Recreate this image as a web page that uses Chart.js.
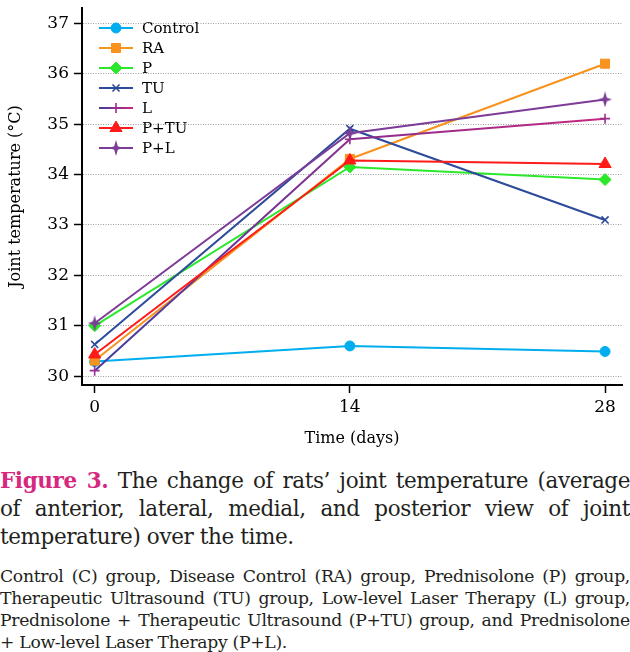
<!DOCTYPE html>
<html><head><meta charset="utf-8">
<script src="https://cdn.jsdelivr.net/npm/chart.js@4/dist/chart.umd.min.js"></script>
<style>
html,body{margin:0;padding:0;background:#fff;}
body{width:630px;height:652px;position:relative;overflow:hidden;font-family:'DejaVu Serif',serif;color:#231f20;}
#wrap{position:absolute;left:0;top:0;width:630px;height:455px;}
#cap1{position:absolute;left:0;top:466.5px;width:630px;font-size:21.5px;line-height:28px;letter-spacing:-0.4px;}
#cap2{position:absolute;left:0;top:565px;width:630px;font-size:17.2px;line-height:22px;letter-spacing:-0.3px;}
.line{width:630px;height:auto;white-space:nowrap;overflow:visible;}
.line > .in{display:inline-block;white-space:nowrap;transform-origin:0 0;}
.fig{color:#D6287F;font-weight:bold;}
</style>
</head><body>
<div id="wrap"><canvas id="c" width="630" height="455"></canvas></div>
<div id="cap1">
<div class="line j"><span class="in"><span class="fig">Figure 3.</span> The change of rats’ joint temperature (average</span></div>
<div class="line j"><span class="in">of anterior, lateral, medial, and posterior view of joint</span></div>
<div class="line"><span class="in">temperature) over the time.</span></div>
</div>
<div id="cap2">
<div class="line j"><span class="in">Control (C) group, Disease Control (RA) group, Prednisolone (P) group,</span></div>
<div class="line j"><span class="in">Therapeutic Ultrasound (TU) group, Low-level Laser Therapy (L) group,</span></div>
<div class="line j"><span class="in">Prednisolone + Therapeutic Ultrasound (P+TU) group, and Prednisolone</span></div>
<div class="line"><span class="in">+ Low-level Laser Therapy (P+L).</span></div>
</div>
<script>
// ---- data ----
const days = [0, 14, 28];
const seriesNames = ['Control', 'RA', 'P', 'TU', 'L', 'P+TU', 'P+L'];
const control = [30.29, 30.60, 30.49];
const ra      = [30.31, 34.31, 36.20];
const p       = [31.00, 34.15, 33.90];
const tu      = [30.63, 34.91, 33.10];
const l       = [30.11, 34.70, 35.11];
const ptu     = [30.43, 34.28, 34.21];
const pl      = [31.05, 34.82, 35.49];
const yTicks = [30, 31, 32, 33, 34, 35, 36, 37];
const xTicks = [0, 14, 28];
const yTitle = 'Joint temperature (°C)';
const xTitle = 'Time (days)';

// ---- caption justification ----
document.querySelectorAll('.line.j').forEach(el => {
  const span = el.querySelector('.in');
  const w = span.getBoundingClientRect().width;
  const target = 630;
  if (w > target) {
    span.style.transform = 'scaleX(' + (target / w) + ')';
  } else {
    const n = (span.textContent.match(/ /g) || []).length;
    if (n) span.style.wordSpacing = ((target - w) / n) + 'px';
  }
});

// ---- styles ----
Chart.defaults.font.family = "'DejaVu Serif', serif";
Chart.defaults.color = '#000';

function makeStar(color) {
  const c = document.createElement('canvas');
  c.width = 14; c.height = 16;
  const g = c.getContext('2d');
  g.fillStyle = color;
  const cx = 7, cy = 8, k = 1.8;
  g.beginPath();
  g.moveTo(cx, 0); g.lineTo(cx + k, cy - k); g.lineTo(14, cy); g.lineTo(cx + k, cy + k);
  g.lineTo(cx, 16); g.lineTo(cx - k, cy + k); g.lineTo(0, cy); g.lineTo(cx - k, cy - k);
  g.closePath(); g.fill();
  return c;
}
function lGradient(ctx, x0, x1) {
  const g = ctx.createLinearGradient(x0, 0, x1, 0);
  g.addColorStop(0, '#3E3F9E');
  g.addColorStop(0.5, '#8A2F8E');
  g.addColorStop(1, '#C8287E');
  return g;
}
const styles = [
  {color: '#00AEEF', point: 'circle', radius: 5, bw: 1},
  {color: '#F7931E', point: 'rect', radius: 6.4, bw: 1},
  {color: '#2BE82B', point: 'rectRot', radius: 6, bw: 1},
  {color: '#2E4A9B', point: 'crossRot', radius: 5, bw: 1.6},
  {color: 'L', pointColor: '#9A2F8F', point: 'cross', radius: 5, bw: 1.6},
  {color: '#FF1A1A', point: 'triangle', radius: 7, bw: 1},
  {color: '#7D3C98', point: 'star4', radius: 7, bw: 1}
];
const allSeries = [control, ra, p, tu, l, ptu, pl];

const datasets = allSeries.map((arr, i) => {
  const s = styles[i];
  const pc = s.pointColor || s.color;
  return {
    label: seriesNames[i],
    data: days.map((d, k) => ({x: d, y: arr[k]})),
    borderColor: s.color === 'L'
      ? (c) => { const ca = c.chart.chartArea; return ca ? lGradient(c.chart.ctx, ca.left, ca.right) : '#8A2F8E'; }
      : s.color,
    borderWidth: 2,
    pointStyle: s.point === 'star4' ? makeStar(pc) : s.point,
    pointRadius: s.radius,
    pointBackgroundColor: pc,
    pointBorderColor: pc,
    pointBorderWidth: s.bw,
    fill: false,
    tension: 0,
    order: allSeries.length - i,
    _legendStyle: s
  };
});

const legendPlugin = {
  id: 'inlegend',
  afterDraw(chart) {
    const ctx = chart.ctx;
    const x0 = 99, x1 = 133, tx = 142;
    chart.data.datasets.forEach((ds, i) => {
      const y = 28 + i * 20;
      const s = ds._legendStyle;
      const pc = s.pointColor || s.color;
      ctx.save();
      ctx.lineWidth = 2;
      ctx.strokeStyle = s.color === 'L' ? lGradient(ctx, x0, x1) : s.color;
      ctx.beginPath(); ctx.moveTo(x0, y); ctx.lineTo(x1, y); ctx.stroke();
      const mx = (x0 + x1) / 2;
      ctx.fillStyle = pc; ctx.strokeStyle = pc; ctx.lineWidth = s.bw;
      const ps = ds.pointStyle;
      if (Chart.helpers && Chart.helpers.drawPoint) {
        Chart.helpers.drawPoint(ctx, {pointStyle: ps, radius: s.radius, rotation: 0, borderWidth: s.bw}, mx, y);
      } else if (ps instanceof HTMLCanvasElement) {
        ctx.drawImage(ps, mx - ps.width / 2, y - ps.height / 2);
      } else {
        ctx.beginPath(); ctx.arc(mx, y, s.radius, 0, Math.PI * 2); ctx.fill();
      }
      ctx.fillStyle = '#000';
      ctx.font = "15px 'DejaVu Serif', serif";
      ctx.textBaseline = 'middle';
      ctx.textAlign = 'left';
      ctx.fillText(ds.label, tx, y + 1);
      ctx.restore();
    });
  }
};

new Chart(document.getElementById('c').getContext('2d'), {
  type: 'line',
  data: {datasets},
  options: {
    responsive: false,
    animation: false,
    devicePixelRatio: 1,
    layout: {padding: {left: 0, right: 7, top: 0, bottom: 0}},
    plugins: {legend: {display: false}, tooltip: {enabled: false}},
    scales: {
      x: {
        type: 'linear', min: -0.695, max: 28.93,
        afterBuildTicks: s => { s.ticks = xTicks.map(v => ({value: v})); },
        afterFit: s => { s.height = 70; s.paddingLeft = 0; s.paddingRight = 0; },
        grid: {drawOnChartArea: false, drawTicks: true, tickLength: 8, tickColor: '#000', tickWidth: 1.5},
        border: {display: true, color: '#000', width: 2},
        ticks: {color: '#000', font: {size: 17}, padding: 4, maxRotation: 0, autoSkip: false},
        title: {display: true, text: xTitle, color: '#000', font: {size: 16}, padding: {top: 0, bottom: 7}}
      },
      y: {
        type: 'linear', min: 29.825, max: 37.305,
        afterBuildTicks: s => { s.ticks = yTicks.map(v => ({value: v})); },
        afterFit: s => { s.width = 82; s.paddingTop = 0; s.paddingBottom = 0; },
        grid: {color: '#9a9a9a', lineWidth: 1, drawTicks: true, tickLength: 8, tickColor: '#000', tickWidth: 1.5},
        border: {display: true, color: '#000', width: 2, dash: [1, 1.5]},
        ticks: {color: '#000', font: {size: 17}, padding: 5},
        title: {display: true, text: yTitle, color: '#000', font: {size: 16}, padding: {top: 6, bottom: 0}}
      }
    }
  },
  plugins: [legendPlugin]
});
</script>
</body></html>
